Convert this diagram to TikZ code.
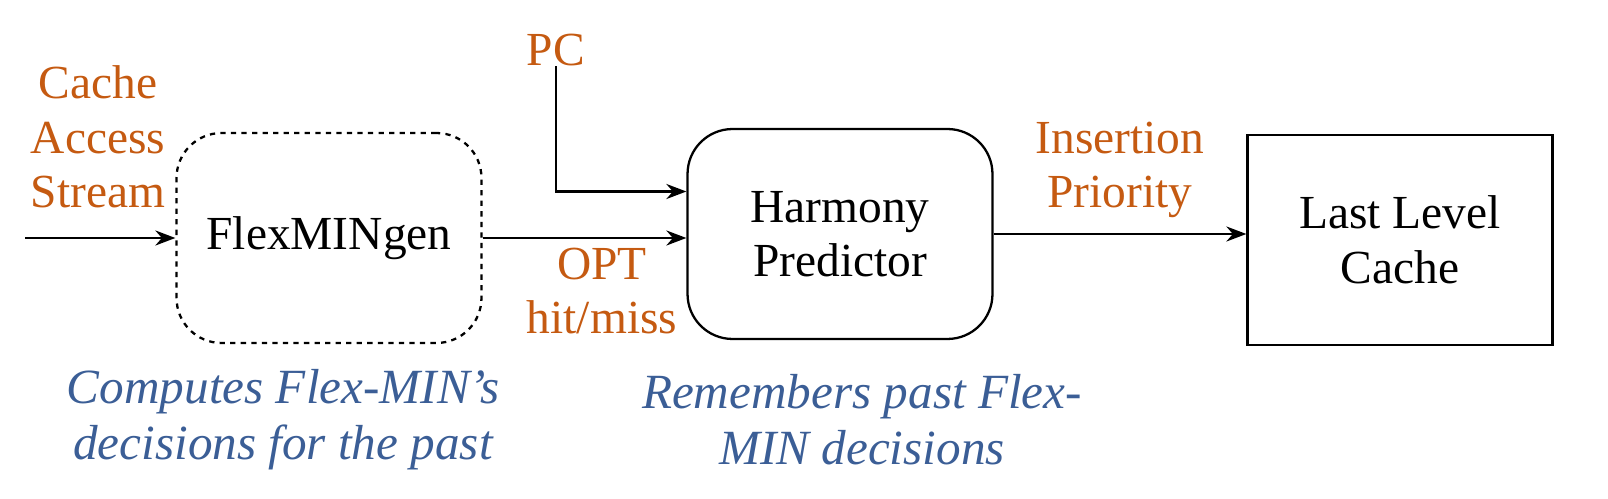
\documentclass[tikz,border=0pt]{standalone}
\usepackage{fontspec}
\setmainfont{Liberation Serif}
\usetikzlibrary{arrows.meta}
\usetikzlibrary{positioning}
\definecolor{sigorange}{HTML}{C55A11}
\definecolor{noteblue}{HTML}{3B5E96}
\begin{document}
\begin{tikzpicture}[x=0.02cm,y=-0.02cm,
		font=\fontsize{27}{31}\selectfont,
		block/.style={draw=black,line width=1.3pt,minimum width=6.1cm,minimum height=4.2cm,align=center},
		signal/.style={text=sigorange,align=center},
		note/.style={text=noteblue,font=\fontsize{28}{32}\selectfont\itshape,align=center},
		flow/.style={line width=1.5pt,-{Stealth[length=4mm,width=3mm]}}]
		\useasboundingbox (0,0) rectangle (1608,499);
		
		% blocks
		\node[block,dashed,rounded corners=0.9cm] (gen) at (329,238) {FlexMINgen};
		\node[block,rounded corners=0.9cm] (pred) at (840,234) {Harmony\\Predictor};
		\node[block] (llc) at (1400,240) {Last Level\\Cache};
		
		% signal labels
		\node[signal] (stream) at (98,137) {Cache\\Access\\Stream};
		\node[signal] (pc) at (556,50) {PC};
		\node[signal] (opt) at (602,291) {OPT\\hit/miss};
		\node[signal] (prio) at (1120,170) {Insertion\\Priority};
		\coordinate (in) at (25,238);
		
		% arrows
		\draw[flow] (pc.south) ++(0,-6) |- ([yshift=0.85cm]pred.west);
		\draw[flow] (in) -- (in -| gen.west);
		\draw[flow] (gen.east) -- (gen.east -| pred.west);
		\draw[flow] (pred.east) -- (pred.east -| llc.west);
		
		% notes below
		\node[note] (gennote) at (283,420) {Computes Flex-MIN’s\\decisions for the past};
		\node[note] (prednote) at (862,420) {Remembers past Flex-\\MIN decisions};
		
	\end{tikzpicture}
\end{document}
